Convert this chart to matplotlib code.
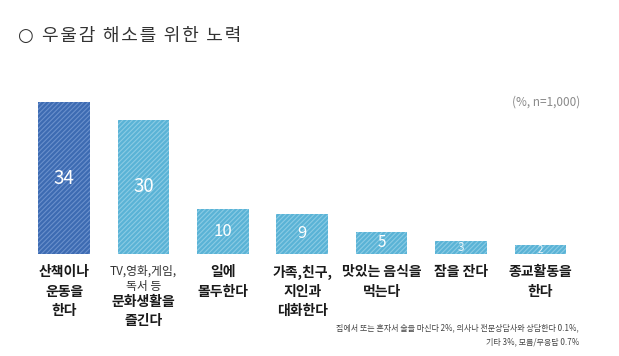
import matplotlib
matplotlib.use("Agg")
import matplotlib.pyplot as plt

plt.rcParams['font.family'] = ['Noto Sans CJK KR', 'DejaVu Sans']
plt.rcParams['hatch.linewidth'] = 0.8

# 데이터
values = [34, 30, 10, 9, 5, 3, 2]
labels = [
    ["산책이나", "운동을", "한다"],
    ["TV,영화,게임,", "독서 등", "문화생활을", "즐긴다"],
    ["일에", "몰두한다"],
    ["가족,친구,", "지인과", "대화한다"],
    ["맛있는 음식을", "먹는다"],
    ["잠을 잔다"],
    ["종교활동을", "한다"],
]
title = "우울감 해소를 위한 노력"
unit_note = "(%, n=1,000)"
footnote = ["집에서 또는 혼자서 술을 마신다 2%, 의사나 전문상담사와 상담한다 0.1%,",
            "기타 3%, 모름/무응답 0.7%"]

fig = plt.figure(figsize=(6.19, 3.56), dpi=100)
ax = fig.add_axes([0.0394, 0.2865, 0.8976, 0.502])

x = list(range(len(values)))
face = ["#3D6BB2"] + ["#5AB3D6"] * (len(values) - 1)
hatch_col = ["#6A90CC"] + ["#8ACBE4"] * (len(values) - 1)
bars = ax.bar(x, values, width=0.65, color=face, edgecolor=hatch_col,
              hatch="///////", linewidth=0)

ax.set_xlim(-0.5, len(values) - 0.5)
ax.set_ylim(0, 40)
ax.axis("off")

# 막대 안 값
sizes = [13.5, 13.5, 12, 12, 11, 8.5, 7]
for xi, v, fs in zip(x, values, sizes):
    col = "white" if v >= 5 else "#EAF6FB"
    ax.text(xi, v / 2, str(v), ha="center", va="center", color=col,
            fontsize=fs, fontweight="medium")

# 막대 아래 라벨
for xi, lines in zip(x, labels):
    if len(lines) == 4:
        offs = [-17, -32, -48, -67]
        styles = [("normal", 8.5), ("normal", 8.5), ("bold", 10), ("bold", 10)]
    else:
        offs = [-18 - 19.5 * k for k in range(len(lines))]
        styles = [("bold", 10)] * len(lines)
    for line, off, (w, fs) in zip(lines, offs, styles):
        ax.annotate(line, xy=(xi, 0), xycoords=("data", "axes fraction"),
                    xytext=(0, off), textcoords="offset pixels",
                    ha="center", va="center", fontsize=fs, fontweight=w,
                    color="#1a1a1a" if w == "bold" else "#333333")

# 제목
fig.text(17 / 619, 1 - 36 / 356, "○", fontsize=13, color="#333333", va="center",
         family=["DejaVu Sans"])
spaced = "\u200a".join(title)
fig.text(42 / 619, 1 - 36 / 356, spaced, fontsize=13, color="#333333", va="center")

fig.text(580 / 619, 1 - 102 / 356, unit_note, fontsize=8.5, color="#8a8a8a",
         ha="right", va="center")

fig.text(579 / 619, 1 - 328 / 356, footnote[0], fontsize=5.8, color="#444444",
         ha="right", va="center")
fig.text(579 / 619, 1 - 342 / 356, footnote[1], fontsize=5.8, color="#444444",
         ha="right", va="center")

fig.savefig("out.png", dpi=100)
